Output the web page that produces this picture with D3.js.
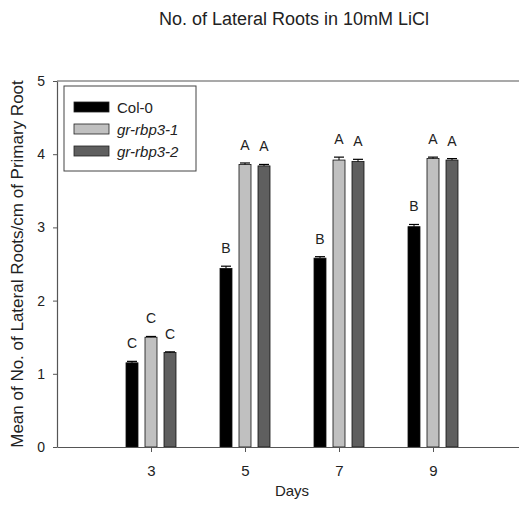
<!DOCTYPE html>
<html>
<head>
<meta charset="utf-8">
<script src="https://cdn.jsdelivr.net/npm/d3@7"></script>
<style>
  body { margin: 0; background: #fff; overflow: hidden; }
  svg { display: block; }
  svg text { font-family: "Liberation Sans", Arial, sans-serif; fill: #222; }
</style>
</head>
<body>
<div id="chart"></div>
<script>
// data
const days = ["3", "5", "7", "9"];
const series = ["Col-0", "gr-rbp3-1", "gr-rbp3-2"];
const col0 = [1.15, 2.44, 2.58, 3.01];
const rbp1 = [1.50, 3.86, 3.92, 3.94];
const rbp2 = [1.29, 3.84, 3.90, 3.92];
const col0Err = [0.02, 0.03, 0.02, 0.03];
const rbp1Err = [0.01, 0.02, 0.04, 0.02];
const rbp2Err = [0.01, 0.02, 0.03, 0.02];
const col0Sig = ["C", "B", "B", "B"];
const rbp1Sig = ["C", "A", "A", "A"];
const rbp2Sig = ["C", "A", "A", "A"];
const yTicks = [0, 1, 2, 3, 4, 5];

const W = 519, H = 518;
const plot = { left: 57, top: 81, bottom: 447, right: 527 };

const svg = d3.select("#chart").append("svg")
    .attr("width", W)
    .attr("height", H);

const x = d3.scalePoint().domain(days).range([plot.left, plot.right]).padding(1);
const xs = d3.scaleBand().domain(series).range([-25, 25]).paddingInner(7 / 19);
const y = d3.scaleLinear().domain([0, 5]).range([plot.bottom, plot.top]);
const color = d3.scaleOrdinal().domain(series).range(["#000000", "#c0c0c0", "#5f5f5f"]);

const rows = [];
const vals = [col0, rbp1, rbp2], errs = [col0Err, rbp1Err, rbp2Err], sigs = [col0Sig, rbp1Sig, rbp2Sig];
series.forEach((s, i) => {
    days.forEach((d, j) => {
        rows.push({ series: s, day: d, value: vals[i][j], err: errs[i][j], sig: sigs[i][j] });
    });
});

// bars
const g = svg.append("g");
g.selectAll("rect.bar")
    .data(rows)
    .enter().append("rect")
    .attr("class", "bar")
    .attr("x", d => x(d.day) + xs(d.series))
    .attr("y", d => y(d.value))
    .attr("width", xs.bandwidth())
    .attr("height", d => y(0) - y(d.value))
    .attr("fill", d => color(d.series))
    .attr("stroke", "#111")
    .attr("stroke-width", 0.8);

// error bars (upper only)
g.selectAll("line.err")
    .data(rows)
    .enter().append("line")
    .attr("x1", d => x(d.day) + xs(d.series) + xs.bandwidth() / 2)
    .attr("x2", d => x(d.day) + xs(d.series) + xs.bandwidth() / 2)
    .attr("y1", d => y(d.value))
    .attr("y2", d => y(d.value + d.err))
    .attr("stroke", "#000");
g.selectAll("line.cap")
    .data(rows)
    .enter().append("line")
    .attr("x1", d => x(d.day) + xs(d.series) + 1)
    .attr("x2", d => x(d.day) + xs(d.series) + xs.bandwidth() - 1)
    .attr("y1", d => y(d.value + d.err))
    .attr("y2", d => y(d.value + d.err))
    .attr("stroke", "#000")
    .attr("stroke-width", 1.2);

// significance letters
g.selectAll("text.sig")
    .data(rows)
    .enter().append("text")
    .attr("x", d => x(d.day) + xs(d.series) + xs.bandwidth() / 2)
    .attr("y", d => y(d.value + d.err) - 13)
    .attr("text-anchor", "middle")
    .style("font-size", "14px")
    .text(d => d.sig);

// frame (top edge only, runs off the right side)
svg.append("line").attr("x1", plot.left).attr("x2", plot.right).attr("y1", plot.top).attr("y2", plot.top)
    .attr("stroke", "#555").attr("stroke-width", 1.2);

// axes
const yAxis = svg.append("g")
    .attr("transform", `translate(${plot.left},0)`)
    .call(d3.axisLeft(y).tickValues(yTicks).tickSize(4).tickSizeOuter(0).tickPadding(8).tickFormat(d3.format("d")));
yAxis.select(".domain").attr("stroke", "#555").attr("stroke-width", 1.2);
yAxis.selectAll(".tick line").attr("stroke", "#555");
yAxis.selectAll("text").style("font-size", "14px").attr("fill", "#222");

const xAxis = svg.append("g")
    .attr("transform", `translate(0,${plot.bottom})`)
    .call(d3.axisBottom(x).tickSize(5).tickPadding(13).tickSizeOuter(0));
xAxis.select(".domain").attr("stroke", "#555").attr("stroke-width", 1.2);
xAxis.selectAll(".tick line").attr("stroke", "#555");
xAxis.selectAll("text").style("font-size", "15px").attr("fill", "#222");

// labels
svg.append("text")
    .attr("x", 294)
    .attr("y", 25)
    .attr("text-anchor", "middle")
    .style("font-size", "18px")
    .text("No. of Lateral Roots in 10mM LiCl");

svg.append("text")
    .attr("x", x("5") + (x("7") - x("5")) / 2)
    .attr("y", 496)
    .attr("text-anchor", "middle")
    .style("font-size", "15px")
    .text("Days");

svg.append("text")
    .attr("transform", "rotate(-90)")
    .attr("x", -(plot.top + plot.bottom) / 2)
    .attr("y", 23)
    .attr("text-anchor", "middle")
    .style("font-size", "17px")
    .text("Mean of No. of Lateral Roots/cm of Primary Root");

// legend
const legend = svg.append("g").attr("transform", "translate(64,86)");
legend.append("rect")
    .attr("width", 132).attr("height", 85)
    .attr("fill", "#fff").attr("stroke", "#444").attr("stroke-width", 1);
series.forEach((s, i) => {
    legend.append("rect")
        .attr("x", 10).attr("y", 16 + i * 22)
        .attr("width", 35).attr("height", 10)
        .attr("fill", color(s))
        .attr("stroke", "#222").attr("stroke-width", 0.8);
    legend.append("text")
        .attr("x", 53).attr("y", 27 + i * 22)
        .style("font-size", "15px")
        .style("font-style", i === 0 ? "normal" : "italic")
        .text(s);
});
</script>
</body>
</html>
